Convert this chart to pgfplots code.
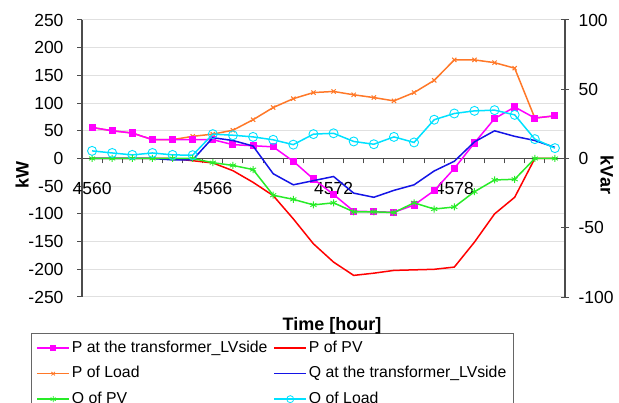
\documentclass[border=0pt]{standalone}
\usepackage{fontspec}
\setmainfont{Liberation Sans}
\usepackage{pgfplots}
\pgfplotsset{compat=1.18}
\definecolor{cmag}{RGB}{255,0,255}
\definecolor{cred}{RGB}{255,0,0}
\definecolor{cora}{RGB}{255,120,40}
\definecolor{cblu}{RGB}{20,20,230}
\definecolor{cgrn}{RGB}{40,235,40}
\definecolor{ccya}{RGB}{0,225,255}
\pgfplotstableread{
x ptr ppv pload
4560 56 0 56
4561 50 0 50
4562 46 0 46
4563 34 0 34
4564 34 0 34
4565 34 -4 40
4566 34 -8 44
4567 25 -22 51
4568 23 -43 70
4569 21 -67 92
4570 -5 -109 108
4571 -37 -154 119
4572 -65 -187 121
4573 -95 -211 115
4574 -96 -207 110
4575 -97 -202 104
4576 -84 -201 119
4577 -58 -200 141
4578 -18 -196 178
4579 28 -151 178
4580 72 -100 173
4581 93 -70 163
4582 73 0 73
4583 77 0 77
}\Pdata
\pgfplotstableread{
x qtr qpv qload
4560 0 0 5.5
4561 0 0 4
4562 0 0 2.6
4563 0 0 4
4564 -1 0 2.6
4565 -1 0 2.4
4566 15 -3 17.6
4567 13 -5 16.8
4568 9 -8 15.6
4569 -11 -26.5 13.5
4570 -19 -29.5 10
4571 -16 -33.5 17.6
4572 -13 -32 18.2
4573 -25 -38.5 12.3
4574 -28 -38.5 10.3
4575 -23 -39 15.6
4576 -19 -32 11.6
4577 -9 -36.5 28
4578 -2 -35 32.5
4579 12 -24 34.4
4580 20 -15.5 34.9
4581 16 -15 31.5
4582 13 0 14
4583 8 0 7.5
}\Qdata
\pgfplotsset{
  common/.style={
    at={(82bp,106bp)}, anchor=south west, scale only axis,
    width=483bp, height=277bp,
    xmin=4559.5, xmax=4583.5,
    axis line style={-, draw=black!70, line width=1.1bp},
    tick style={draw=black!70, line width=1bp},
    tick label style={font=\fontsize{17.5bp}{20bp}\selectfont},
  },
  ser/.style={line width=1.5bp},
}
\begin{document}
\begin{tikzpicture}
\useasboundingbox (0,0) rectangle (619bp,403bp);
\clip (0,0) rectangle (619bp,403bp);
\begin{axis}[common,
  ymin=-250, ymax=250,
  axis y line*=left, axis x line*=middle,
  tick align=outside, major tick length=5bp,
  ytick={-250,-200,-150,-100,-50,0,50,100,150,200,250},
  yticklabels={-250,-200,-150,-100,-50,0,50,100,150,200,250},
  ymajorgrids, grid style={draw=black!12, line width=1bp},
  yticklabel style={xshift=-10bp},
  xtick={4559.5,4560.5,...,4583.5}, xticklabels={},
  extra x ticks={4560,4566,4572,4578},
  extra x tick labels={4560,4566,4572,4578},
  extra x tick style={tick style={draw=none}, xticklabel style={yshift=-15bp}},
]
\addplot[ser, cora, mark=x, mark size=3bp, mark options={line width=1bp}] table[x=x,y=pload] {\Pdata};
\addplot[ser, cmag, mark=square*, mark size=2.8bp] table[x=x,y=ptr] {\Pdata};
\addplot[ser, cred] table[x=x,y=ppv] {\Pdata};
\end{axis}
\begin{axis}[common,
  ymin=-100, ymax=100,
  axis y line*=right, axis x line=none,
  tick align=center, major tick length=8bp,
  ytick={-100,-50,0,50,100},
  yticklabels={-100,-50,0,50,100},
  yticklabel style={xshift=6bp},
  legend columns=2,
  legend image code/.code={\draw[mark repeat=2,mark phase=2,#1] plot coordinates {(0bp,0bp) (16bp,0bp) (32bp,0bp)};},
  legend style={at={(-0.1055,-0.13)}, anchor=north west, draw=black!60, line width=0.8bp,
    font=\fontsize{15.8bp}{18bp}\selectfont, inner xsep=5bp, inner ysep=2bp, row sep=0bp,
    nodes={inner xsep=2bp, inner ysep=5.5bp, text height=11.5bp, text depth=3bp},
    /tikz/column 2/.style={column sep=4bp}, cells={anchor=west}},
]
\addlegendimage{ser, cmag, mark=square*, mark size=2.2bp}
\addlegendentry{P at the transformer\_LVside}
\addlegendimage{ser, cred}
\addlegendentry{P of PV}
\addlegendimage{ser, cora, mark=x, mark size=2.5bp, mark options={line width=0.8bp}}
\addlegendentry{P of Load}
\addlegendimage{ser, cblu}
\addlegendentry{Q at the transformer\_LVside}
\addlegendimage{ser, cgrn, mark=asterisk, mark size=3bp, mark options={line width=0.8bp}}
\addlegendentry{Q of PV}
\addlegendimage{ser, ccya, mark=o, mark size=3.5bp, mark options={line width=0.8bp}}
\addlegendentry{Q of Load}
\addplot[ser, cblu, forget plot] table[x=x,y=qtr] {\Qdata};
\addplot[ser, cgrn, mark=asterisk, mark size=3.5bp, mark options={line width=0.9bp}, forget plot] table[x=x,y=qpv] {\Qdata};
\addplot[ser, ccya, mark=o, mark size=4.5bp, mark options={line width=0.9bp}, forget plot] table[x=x,y=qload] {\Qdata};
\end{axis}
\node[rotate=90, font=\bfseries\fontsize{18bp}{21bp}\selectfont] at (22bp,228bp) {kW};
\node[rotate=-90, font=\bfseries\fontsize{18bp}{21bp}\selectfont] at (607bp,228bp) {kVar};
\node[font=\bfseries\fontsize{18bp}{21bp}\selectfont] at (332bp,77bp) {Time [hour]};
\end{tikzpicture}
\end{document}
